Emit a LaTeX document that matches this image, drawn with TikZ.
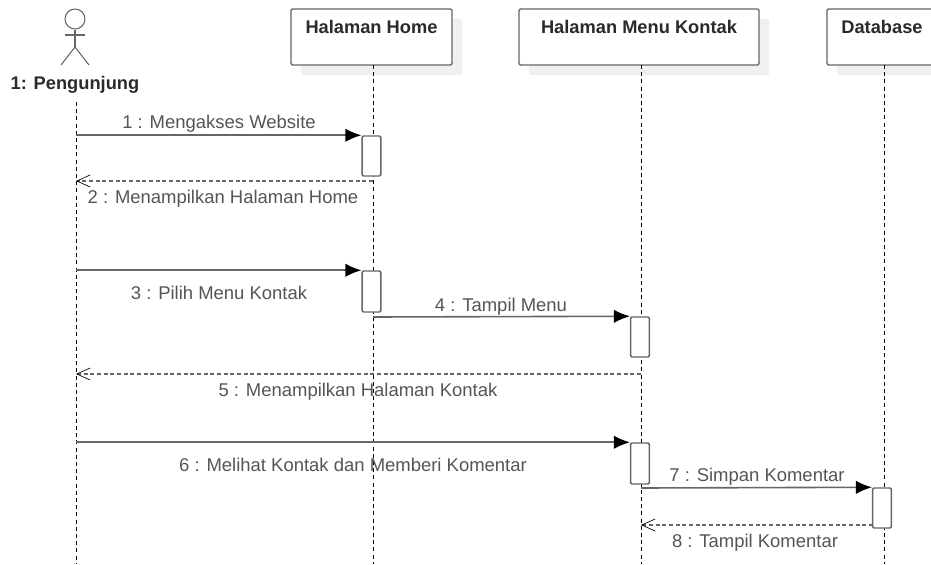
\documentclass[tikz,border=0pt]{standalone}
\usepackage{fontspec}
\setmainfont{Liberation Sans}
\usetikzlibrary{arrows.meta, positioning, shadows}
\definecolor{linegray}{HTML}{666666}
\definecolor{textgray}{HTML}{555555}
\definecolor{titlegray}{HTML}{2A2A2A}
\tikzset{
    lifebox/.style={draw=linegray, line width=1.1pt, rounded corners=1pt, fill=white, minimum height=42pt,
      drop shadow={shadow xshift=7.5pt, shadow yshift=-7.5pt, fill=black!6, opacity=1}},
    boxtitle/.style={font=\bfseries\fontsize{13.7}{16}\selectfont, text=titlegray, inner sep=0pt},
    msgtext/.style={font=\fontsize{13.85}{16}\selectfont, text=textgray, inner sep=0pt},
    lifeline/.style={draw=black, line width=0.7pt, dash pattern=on 3pt off 2.4pt},
    actbox/.style={draw=linegray, line width=1.1pt, rounded corners=1pt, fill=white, minimum width=14pt, inner sep=0pt},
    msgcall/.style={draw=linegray, line width=1.2pt, -{Latex[black, length=12pt, width=10pt]}},
    msgback/.style={draw=linegray, line width=1pt, dash pattern=on 3pt off 2pt, -{Straight Barb[black, length=10pt, width=9pt, line width=0.5pt]}},
    actorline/.style={draw=linegray, line width=0.8pt},
}

\begin{document}
\begin{tikzpicture}[x=0.75pt, y=-0.75pt]
    \clip (0,0) rectangle (931,564);
    \useasboundingbox (0,0) rectangle (931,564);

    % actor
    \node[circle, actorline, minimum size=15pt, inner sep=0pt] (head) at (75,19) {};
    \coordinate (hip) at (75,47);
    \coordinate (armL) at (65,35);
    \coordinate (armR) at (85,35);
    \coordinate (footL) at (61,65);
    \coordinate (footR) at (89,65);
    \draw[actorline] (head) -- (hip);
    \draw[actorline] (armL) -- (armR);
    \draw[actorline] (footL) -- (hip) -- (footR);
    \node[boxtitle] (user) at (75,85) {1: Pengunjung};

    % lifeline heads
    \node[lifebox, minimum width=120.75pt] (home) at (371.5,37) {};
    \node[lifebox, minimum width=180pt] (menu) at (639,37) {};
    \node[lifebox, minimum width=85.5pt] (db) at (884,37) {};
    \node[boxtitle, below=8.5pt of home.north] (homet) {Halaman Home};
    \node[boxtitle, below=8.5pt of menu.north] (menut) {Halaman Menu Kontak};
    \node[boxtitle, below=8.5pt of db.north, xshift=-1.5pt] (dbt) {Database};

    % lifelines
    \coordinate (userTop) at (76,102);
    \coordinate (userEnd) at (76,564);
    \coordinate (homeTop) at (373,65);
    \coordinate (homeEnd) at (373,564);
    \coordinate (menuTop) at (641,65);
    \coordinate (menuEnd) at (641,564);
    \coordinate (dbTop) at (884,65);
    \coordinate (dbEnd) at (884,564);
    \draw[lifeline] (userTop) -- (userEnd);
    \draw[lifeline] (homeTop) -- (homeEnd);
    \draw[lifeline] (menuTop) -- (menuEnd);
    \draw[lifeline] (dbTop) -- (dbEnd);

    % activations
    \node[actbox, minimum height=30pt] (a1) at (371.5,156) {};
    \node[actbox, minimum height=30.75pt] (a2) at (371.5,291.5) {};
    \node[actbox, minimum height=30pt] (a3) at (640,337) {};
    \node[actbox, minimum height=30.75pt] (a4) at (640,463.5) {};
    \node[actbox, minimum height=30pt] (a5) at (882,508) {};

    % messages
    \coordinate (r2) at (373,181);
    \coordinate (l2) at (76,181);
    \coordinate (s4) at (373,317);
    \coordinate (r5) at (641,374);
    \coordinate (l5) at (76,374);
    \coordinate (s7) at (641,488);
    \coordinate (r8) at (873,525);
    \coordinate (l8) at (641,525);

    \draw[msgcall] (userTop |- a1.north west) -- (a1.north west);
    \draw[msgback] (r2) -- (l2);
    \draw[msgcall] (userTop |- a2.north west) -- (a2.north west);
    \draw[msgcall] (s4) -- (a3.north west);
    \draw[msgback] (r5) -- (l5);
    \draw[msgcall] (userTop |- a4.north west) -- (a4.north west);
    \draw[msgcall] (s7) -- (a5.north west);
    \draw[msgback] (r8) -- (l8);

    \node[msgtext] (t1) at (219,124) {1 : Mengakses Website};
    \node[msgtext] (t2) at (223,199) {2 : Menampilkan Halaman Home};
    \node[msgtext] (t3) at (219,293) {3 : Pilih Menu Kontak};
    \node[msgtext] (t4) at (501,307) {4 : Tampil Menu};
    \node[msgtext] (t5) at (358,392) {5 : Menampilkan Halaman Kontak};
    \node[msgtext] (t6) at (353,465) {6 : Melihat Kontak dan Memberi Komentar};
    \node[msgtext] (t7) at (757,477) {7 : Simpan Komentar};
    \node[msgtext] (t8) at (755,543) {8 : Tampil Komentar};
\end{tikzpicture}
\end{document}
